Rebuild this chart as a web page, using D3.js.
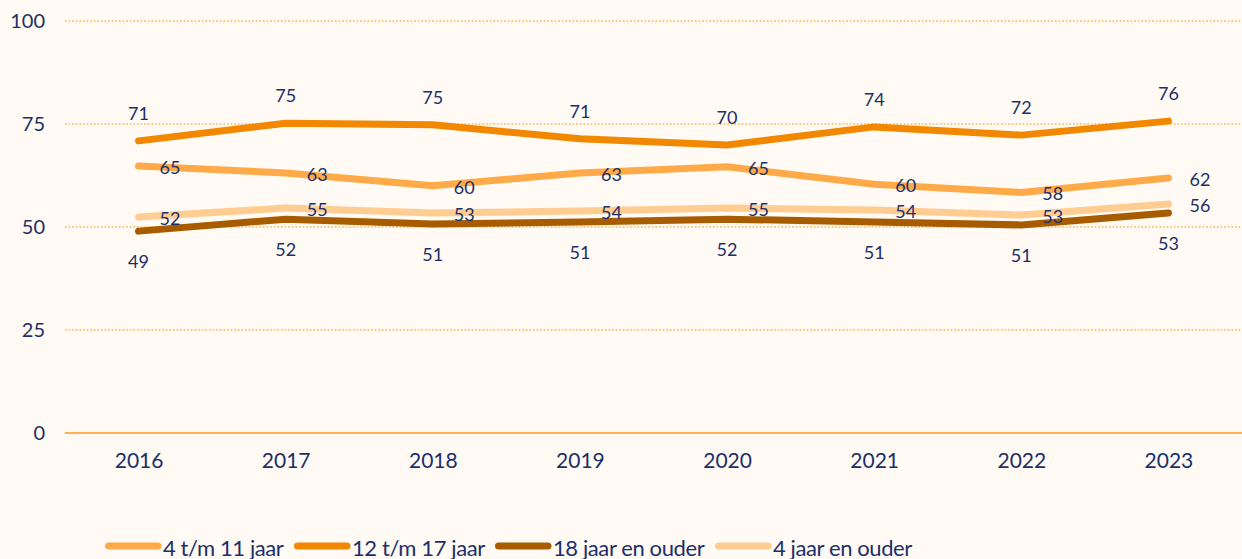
<!DOCTYPE html>
<html>
<head>
<meta charset="utf-8">
<script src="https://cdn.jsdelivr.net/npm/d3@7"></script>
<style>
    html, body {
        margin: 0;
        padding: 0;
        background: #fffaf3;
    }
    svg {
        display: block;
        font-family: Lato, "Open Sans", sans-serif;
    }
</style>
</head>
<body>
<svg id="chart" width="1242" height="559"></svg>
<script>
// Donnees
const years = ["2016", "2017", "2018", "2019", "2020", "2021", "2022", "2023"];
const yTicks = [0, 25, 50, 75, 100];

const age4to11 = [64.8, 63.1, 60.0, 63.1, 64.6, 60.4, 58.4, 61.9];
const age12to17 = [70.9, 75.2, 74.8, 71.4, 69.9, 74.3, 72.3, 75.7];
const age18plus = [49.0, 51.9, 50.7, 51.2, 51.9, 51.2, 50.5, 53.4];
const age4plus = [52.4, 54.6, 53.4, 53.9, 54.6, 54.1, 52.9, 55.6];

const seriesNames = ["4 t/m 11 jaar", "12 t/m 17 jaar", "18 jaar en ouder", "4 jaar en ouder"];
const seriesColors = ["#ffaa48", "#f28700", "#a85c00", "#ffcd92"];
const labelPlacement = ["right", "above", "below", "right"];

// Ordre de dessin : lignes claires en dessous
const drawOrder = [3, 0, 1, 2];

const series = [age4to11, age12to17, age18plus, age4plus].map(function(values, index) {
    return {
        name: seriesNames[index],
        color: seriesColors[index],
        placement: labelPlacement[index],
        values: values
    };
});

// Mise en page
const chartConfig = {
    width: 1242,
    height: 559,
    margin: { top: 21, right: 0, bottom: 126, left: 65 }
};
const textColor = "#1c2f6a";

const svg = d3.select("#chart");

const xScale = d3.scalePoint()
    .domain(years)
    .range([chartConfig.margin.left, chartConfig.width - chartConfig.margin.right])
    .padding(0.5);

const yScale = d3.scaleLinear()
    .domain([0, 100])
    .range([chartConfig.height - chartConfig.margin.bottom, chartConfig.margin.top]);

// Grille
svg.append("g")
    .selectAll("line")
    .data(yTicks.filter(function(tick) { return tick > 0; }))
    .enter()
    .append("line")
    .attr("x1", chartConfig.margin.left)
    .attr("x2", chartConfig.width - chartConfig.margin.right)
    .attr("y1", function(tick) { return yScale(tick); })
    .attr("y2", function(tick) { return yScale(tick); })
    .attr("stroke", "#ffb24d")
    .attr("stroke-width", 1.6)
    .attr("stroke-dasharray", "1.6,2");

// Axe horizontal
svg.append("line")
    .attr("x1", chartConfig.margin.left)
    .attr("x2", chartConfig.width - chartConfig.margin.right)
    .attr("y1", yScale(0))
    .attr("y2", yScale(0))
    .attr("stroke", "#ffb24d")
    .attr("stroke-width", 2);

// Axe vertical (etiquettes seules)
const yAxis = svg.append("g")
    .attr("transform", "translate(" + (chartConfig.margin.left - 20) + ",0)")
    .call(d3.axisLeft(yScale).tickValues(yTicks).tickSize(0).tickPadding(0));
yAxis.select(".domain").remove();
yAxis.selectAll("text")
    .attr("fill", textColor)
    .attr("font-size", 20)
    .attr("font-family", "Lato, sans-serif");

const xAxis = svg.append("g")
    .attr("transform", "translate(0," + (yScale(0) + 20) + ")")
    .call(d3.axisBottom(xScale).tickSize(0).tickPadding(0));
xAxis.select(".domain").remove();
xAxis.selectAll("text")
    .attr("fill", textColor)
    .attr("font-size", 21)
    .attr("font-family", "Lato, sans-serif");

// Lignes
const lineGenerator = d3.line()
    .x(function(value, index) { return xScale(years[index]); })
    .y(function(value) { return yScale(value); });

drawOrder.forEach(function(seriesIndex) {
    const item = series[seriesIndex];
    svg.append("path")
        .datum(item.values)
        .attr("d", lineGenerator)
        .attr("fill", "none")
        .attr("stroke", item.color)
        .attr("stroke-width", 7)
        .attr("stroke-linecap", "round")
        .attr("stroke-linejoin", "round");
});

// Etiquettes de valeurs
series.forEach(function(item) {
    svg.append("g")
        .selectAll("text")
        .data(item.values)
        .enter()
        .append("text")
        .attr("x", function(value, index) {
            const x = xScale(years[index]);
            return item.placement === "right" ? x + 21 : x;
        })
        .attr("y", function(value) {
            const y = yScale(value);
            if (item.placement === "above") {
                return y - 28;
            }
            if (item.placement === "below") {
                return y + 30;
            }
            return y + 1;
        })
        .attr("text-anchor", item.placement === "right" ? "start" : "middle")
        .attr("dominant-baseline", "central")
        .attr("fill", textColor)
        .attr("font-size", 18)
        .text(function(value) { return Math.round(value); });
});

// Legende
const legendItemX = [105, 294, 495, 715];
const legend = svg.append("g")
    .attr("transform", "translate(0,546)");

series.forEach(function(item, index) {
    const entry = legend.append("g")
        .attr("transform", "translate(" + legendItemX[index] + ",0)");

    entry.append("line")
        .attr("x1", 3.5)
        .attr("x2", 53)
        .attr("y1", 0)
        .attr("y2", 0)
        .attr("stroke", item.color)
        .attr("stroke-width", 7)
        .attr("stroke-linecap", "round");

    entry.append("text")
        .attr("x", 58)
        .attr("y", 1)
        .attr("dominant-baseline", "central")
        .attr("fill", textColor)
        .attr("font-size", 22)
        .attr("letter-spacing", "-0.4px")
        .text(item.name);
});
</script>
</body>
</html>
